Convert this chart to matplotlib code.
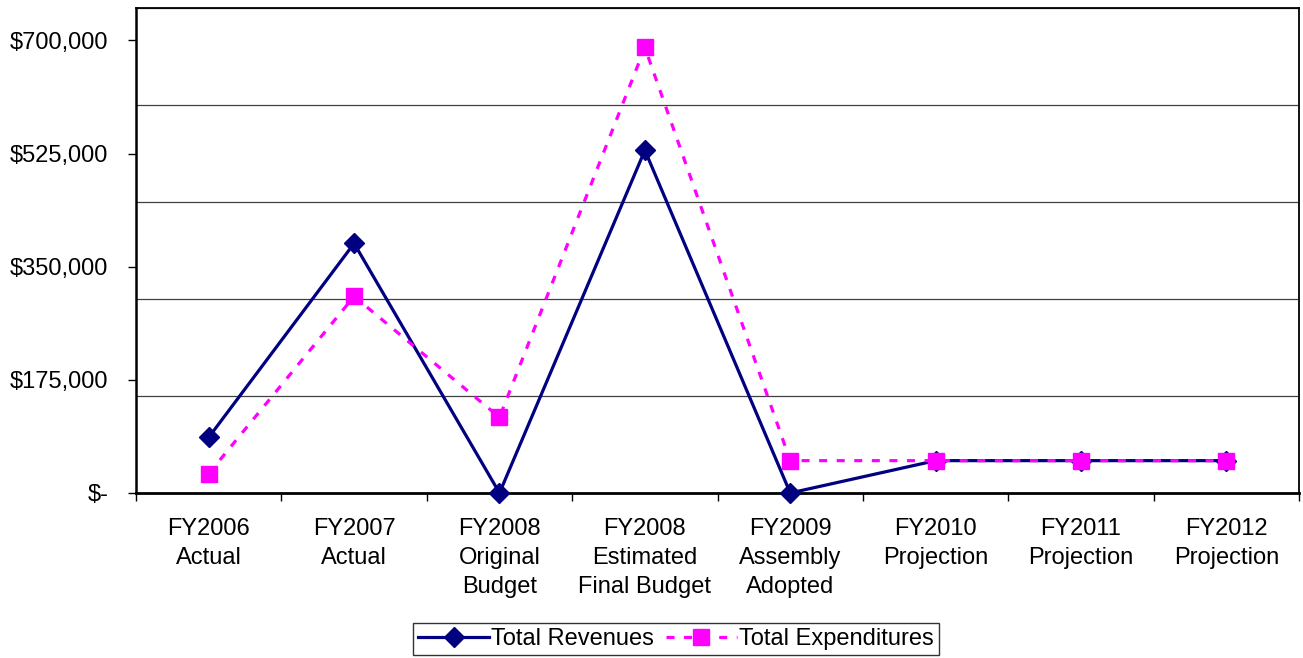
import matplotlib
matplotlib.use('Agg')
import matplotlib.pyplot as plt
from matplotlib.ticker import MultipleLocator, FuncFormatter

categories = ['FY2006\nActual', 'FY2007\nActual', 'FY2008\nOriginal\nBudget',
              'FY2008\nEstimated\nFinal Budget', 'FY2009\nAssembly\nAdopted',
              'FY2010\nProjection', 'FY2011\nProjection', 'FY2012\nProjection']
revenues = [86000, 386000, 0, 530000, 0, 50000, 50000, 50000]
expenditures = [30000, 304000, 117000, 689000, 50000, 50000, 50000, 50000]

plt.rcParams['font.family'] = ['Liberation Sans', 'DejaVu Sans']

def money(v, pos):
    if v == 0:
        return '$-'
    return '${:,.0f}'.format(v)

fig = plt.figure(figsize=(13.03, 6.58), dpi=100)
ax = fig.add_axes([0.1044, 0.2508, 0.8926, 0.737])

x = range(len(categories))
ax.plot(x, revenues, color='#000080', lw=2.3, marker='D', ms=10,
        label='Total Revenues', clip_on=False, zorder=4)
ax.plot(x, expenditures, color='#FF00FF', lw=2.3, marker='s', ms=12,
        dashes=(2.5, 3), label='Total Expenditures', clip_on=False, zorder=5)

ax.set_xlim(-0.5, len(categories) - 0.5)
ax.set_ylim(0, 750000)

ax.yaxis.set_major_locator(MultipleLocator(175000))
ax.yaxis.set_major_formatter(FuncFormatter(money))
ax.yaxis.set_minor_locator(MultipleLocator(150000))
ax.grid(axis='y', which='minor', color='#404040', lw=0.9)
ax.tick_params(axis='y', which='minor', length=0)
ax.tick_params(axis='y', which='major', length=6, width=1, labelsize=17, pad=14)

ax.set_xticks(list(x))
ax.set_xticklabels(categories, fontsize=17, linespacing=1.42)
ax.set_xticks([i - 0.5 for i in range(len(categories) + 1)], minor=True)
ax.tick_params(axis='x', which='major', length=0, pad=18)
ax.tick_params(axis='x', which='minor', length=6, width=1)

for s in ax.spines.values():
    s.set_color('black')
    s.set_linewidth(1.3)
ax.spines['left'].set_linewidth(1.8)
ax.spines['bottom'].set_linewidth(2)

fig.legend(loc='center', bbox_to_anchor=(676 / 1303, 1 - 639 / 658), ncol=2,
           fontsize=17, frameon=True, fancybox=False, edgecolor='black',
           handlelength=3.0, handletextpad=0.1, columnspacing=0.5,
           borderpad=0.2, borderaxespad=0)

fig.savefig('out.png', dpi=100)
